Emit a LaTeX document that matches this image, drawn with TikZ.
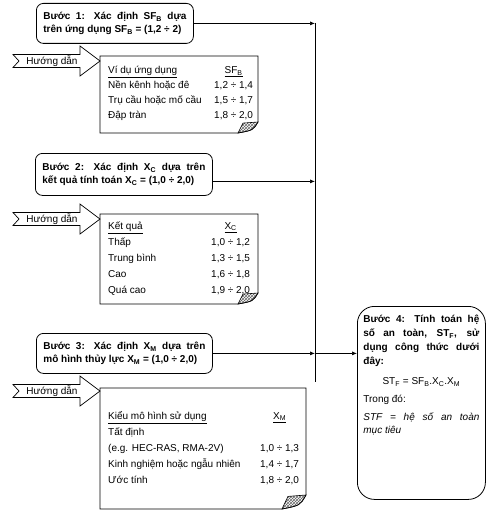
\documentclass[tikz,border=0pt]{standalone}
\usepackage{fontspec}
\setmainfont{Liberation Sans}
\usetikzlibrary{arrows.meta,positioning,patterns,calc}
\newcommand{\sbs}[1]{\textsubscript{#1}}
\tikzset{
  stepbox/.style={draw, line width=0.8pt, rounded corners=7pt, align=justify, inner xsep=7pt, anchor=north west, font=\fontsize{10}{13}\selectfont\bfseries},
  finalbox/.style={draw, line width=0.8pt, rounded corners=17pt, inner xsep=6pt, inner ysep=0pt, anchor=north west},
  flow/.style={line width=0.7pt, -{Latex[length=5pt,width=4pt]}},
  busline/.style={line width=0.7pt},
  guidearrow/.style={draw, line width=0.7pt, fill=white},
  notepaper/.style={draw, line width=0.7pt},
  notefold/.style={draw, line width=0.6pt, pattern=crosshatch, pattern color=black!60},
  notetext/.style={anchor=north west, inner sep=0pt}
}
\begin{document}
\begin{tikzpicture}[x=1pt, y=-1pt, font=\fontsize{10}{12}\selectfont]
  \useasboundingbox (0,0) rectangle (491,527);
  % steps 1-3
  \node[stepbox, text width=143pt, minimum height=40pt] (step1) at (36,3) {Bước 1: Xác định SF\sbs{B} dựa\linebreak trên ứng dụng SF\sbs{B} = (1,2 ÷ 2)};
  \node[stepbox, text width=163pt, minimum height=42pt] (step2) at (35,153) {Bước 2: Xác định X\sbs{C} dựa trên\linebreak kết quả tính toán X\sbs{C} = (1,0 ÷ 2,0)};
  \node[stepbox, text width=162pt, minimum height=40pt] (step3) at (36,333) {Bước 3: Xác định X\sbs{M} dựa trên\linebreak mô hình thủy lực X\sbs{M} = (1,0 ÷ 2,0)};
  % step 4
  \node[finalbox] (step4) at (357,306) {\parbox[t][193pt][t]{116pt}{\fontsize{10}{14}\selectfont
    \vspace*{9pt}
    {\bfseries Bước 4: Tính toán hệ\linebreak số an toàn, ST\sbs{F}, sử\linebreak dụng công thức dưới\linebreak đây:\par}
    \vspace{6pt}
    {\centering ST\sbs{F} = SF\sbs{B}.X\sbs{C}.X\sbs{M}\par}
    \vspace{4pt}
    Trong đó:\par
    \vspace{5pt}
    {\itshape\baselineskip=13pt STF = hệ số an toàn\linebreak mục tiêu\par}}};
  % collecting line
  \coordinate (bus top) at (315,23);
  \coordinate (bus end) at (315,382);
  \draw[busline] (bus top) -- (bus end);
  \draw[flow] (step1.east) -- (step1.east -| bus top);
  \draw[flow] ([yshift=-7pt]step2.east) -- ([yshift=-7pt]step2.east -| bus top);
  \draw[flow] (step3.east) -- (step3.east -| bus top);
  \draw[flow] (step3.east -| bus top) -- (step3.east -| step4.west);
  % note papers with folded corner
  \foreach \xa/\ya/\xb/\yb/\fx/\fy in {100/56/258/133/20/11, 100/214/258/304/20/11, 100/388/306/509/24/14}{
    \draw[notepaper] (\xa,\ya) -- (\xb,\ya) -- (\xb,\yb-\fy) .. controls (\xb-0.25*\fx,\yb-0.25*\fy) .. (\xb-\fx,\yb) -- (\xa,\yb) -- cycle;
    \draw[notefold] (\xb-\fx,\yb) -- (\xb-0.75*\fx,\yb-0.9*\fy) -- (\xb,\yb-\fy) .. controls (\xb-0.25*\fx,\yb-0.25*\fy) .. (\xb-\fx,\yb) -- cycle;
  }
  % guide arrows
  \foreach \yc [count=\i] in {61,219,391}{
    \draw[guidearrow] (13,\yc-6.5) -- (80,\yc-6.5) -- (80,\yc-15) -- (100,\yc) -- (80,\yc+15) -- (80,\yc+6.5) -- (13,\yc+6.5) -- (19,\yc) -- cycle;
    \node (guide\i) at (52,\yc) {Hướng dẫn};
  }
  % tables
  \node[notetext] (table1) at (108,63) {\renewcommand{\arraystretch}{1.25}%
    \begin{tabular}{@{}p{106pt}@{}c@{}}
      \underline{Ví dụ ứng dụng} & \underline{SF\sbs{B}}\\
      Nền kênh hoặc đê & 1,2 ÷ 1,4\\
      Trụ cầu hoặc mố cầu & 1,5 ÷ 1,7\\
      Đập tràn & 1,8 ÷ 2,0
    \end{tabular}};
  \node[notetext] (table2) at (108,218) {\renewcommand{\arraystretch}{1.33}%
    \begin{tabular}{@{}p{103pt}@{}c@{}}
      \underline{Kết quả} & \underline{X\sbs{C}}\\
      Thấp & 1,0 ÷ 1,2\\
      Trung bình & 1,3 ÷ 1,5\\
      Cao & 1,6 ÷ 1,8\\
      Quá cao & 1,9 ÷ 2,0
    \end{tabular}};
  \node[notetext] (table3) at (108,408) {\renewcommand{\arraystretch}{1.33}%
    \begin{tabular}{@{}p{152pt}@{}c@{}}
      \underline{Kiểu mô hình sử dụng} & \underline{X\sbs{M}}\\
      Tất định & \\
      (e.g. HEC-RAS, RMA-2V) & 1,0 ÷ 1,3\\
      Kinh nghiệm hoặc ngẫu nhiên & 1,4 ÷ 1,7\\
      Ước tính & 1,8 ÷ 2,0
    \end{tabular}};
\end{tikzpicture}
\end{document}
